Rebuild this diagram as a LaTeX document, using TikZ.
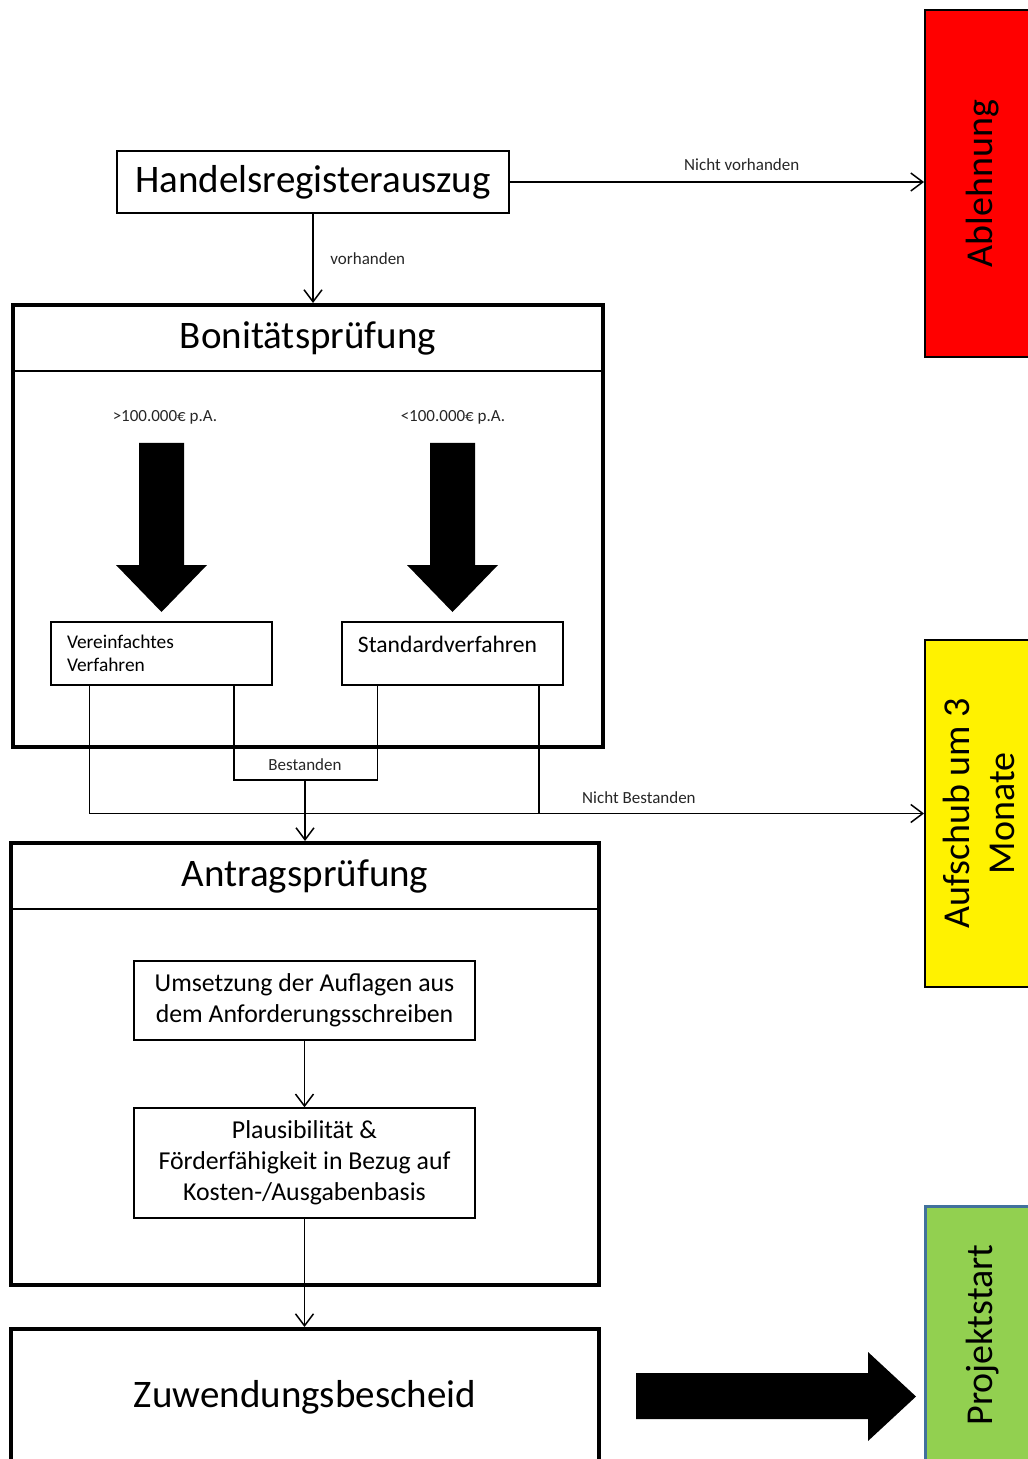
\documentclass[tikz,border=0pt]{standalone}
\usepackage{fontspec}
\setmainfont{Carlito}
\usetikzlibrary{arrows.meta}
\definecolor{startgreen}{HTML}{92D050}
\definecolor{startblue}{HTML}{41719C}

\begin{document}
\begin{tikzpicture}[x=0.5pt, y=-0.5pt]

\tikzstyle{box} = [draw, line width=0.75pt, inner sep=0pt, align=center]
\tikzstyle{frame} = [draw, line width=2pt, minimum width=294pt, inner sep=0pt]
\tikzstyle{big} = [font=\fontsize{19.5}{23}\selectfont]
\tikzstyle{head} = [draw, line width=1pt, minimum width=294pt, minimum height=33pt, big]
\tikzstyle{small} = [font=\fontsize{8.5}{10}\selectfont, text=black!85]
\tikzstyle{inner} = [box, minimum width=170.5pt, font=\fontsize{12.9}{15.5}\selectfont]
\tikzstyle{side} = [draw, line width=1pt, minimum width=57.5pt, inner sep=0pt, font=\fontsize{19}{22.5}\selectfont]
\tikzstyle{arrow} = [line width=0.75pt, -{Straight Barb[length=6pt, width=9pt]}]
\tikzstyle{line} = [line width=0.75pt]

\useasboundingbox (0,0) rectangle (1027,1459);

% Start
\node (handels) [box, big, minimum width=196pt, minimum height=31pt] at (313,182) {Handelsregisterauszug};

% Bonitaetspruefung
\node (bonit) [frame, minimum width=295pt, minimum height=221pt] at (308,526) {};
\node (bonithead) [head, minimum width=295pt] at (308,338) {Bonitätsprüfung};
\node (over) [small] at (165,417) {>100.000€ p.A.};
\node (under) [small] at (453,417) {<100.000€ p.A.};
\node (vereinf) [box, minimum width=110.5pt, minimum height=31.5pt, text width=94.5pt, align=left,
  font=\fontsize{9.7}{11.75}\selectfont] at (161.5,653.5) {Vereinfachtes\\Verfahren};
\node (standard) [box, minimum width=110.5pt, minimum height=31.5pt, text height=9pt, text depth=10.5pt,
  font=\fontsize{11.8}{14}\selectfont] at (452.5,653.5) {Standardverfahren\hspace*{5pt}};

% fat arrows
\foreach \x in {161.5,452.5}
  \fill (\x-22.5,443) -- (\x+22.5,443) -- (\x+22.5,565) -- (\x+45.5,565) -- (\x,612)
    -- (\x-45.5,565) -- (\x-22.5,565) -- cycle;

% Antragspruefung
\node (antrag) [frame, minimum height=221pt] at (305,1064) {};
\node (antraghead) [head] at (305,876) {Antragsprüfung};
\node (umsetzung) [inner, minimum height=39.5pt] at (304.5,1000.5) {Umsetzung der Auflagen aus\\dem Anforderungsschreiben};
\node (plausi) [inner, minimum height=55pt] at (304.5,1163) {Plausibilität \&\\Förderfähigkeit in Bezug auf\\Kosten-/Ausgabenbasis};

% Bescheid
\node (zuwendung) [frame, big, minimum height=68pt] at (305,1397) {Zuwendungsbescheid};
\fill (636,1373) -- (868,1373) -- (868,1352) -- (916,1396.5) -- (868,1441) -- (868,1419) -- (636,1419) -- cycle;

% right column
\node (ablehnung) [side, fill=red, minimum height=173.5pt] at (982.5,183.5) {\rotatebox{90}{Ablehnung}};
\node (aufschub) [side, fill=yellow, minimum height=173.5pt] at (982.5,813.5)
  {\rotatebox{90}{\begin{tabular}{@{}c@{}}Aufschub um 3\\Monate\end{tabular}}};
\node (projekt) [side, fill=startgreen, draw=startblue, line width=1.5pt, minimum height=129pt] at (982.5,1335)
  {\rotatebox{90}{Projektstart}};

% Paths
\draw [arrow] (handels.east) -- (handels.east -| ablehnung.west) node [small, pos=0.56, above=2pt] {Nicht vorhanden};
\draw [arrow] (handels.south) -- (handels.south |- bonit.north) node [small, midway, right=5pt] {vorhanden};

\coordinate (pass) at (305,780);
\draw [line] ([xshift=-19.5pt]vereinf.south east) |- (pass) -| ([xshift=18pt]standard.south west);
\node (bestanden) [small, above=1pt] at (pass) {Bestanden};
\draw [arrow] (pass) -- (pass |- antrag.north);
\draw [line] ([xshift=19.5pt]vereinf.south west) |- ([xshift=-12.5pt]standard.south east |- aufschub.west);
\draw [arrow] ([xshift=-12.5pt]standard.south east) |- (aufschub.west) node [small, pos=0.63, above=1pt] {Nicht Bestanden};

\draw [arrow] (umsetzung) -- (plausi);
\draw [arrow] (plausi.south) -- (plausi.south |- zuwendung.north);

\end{tikzpicture}
\end{document}
